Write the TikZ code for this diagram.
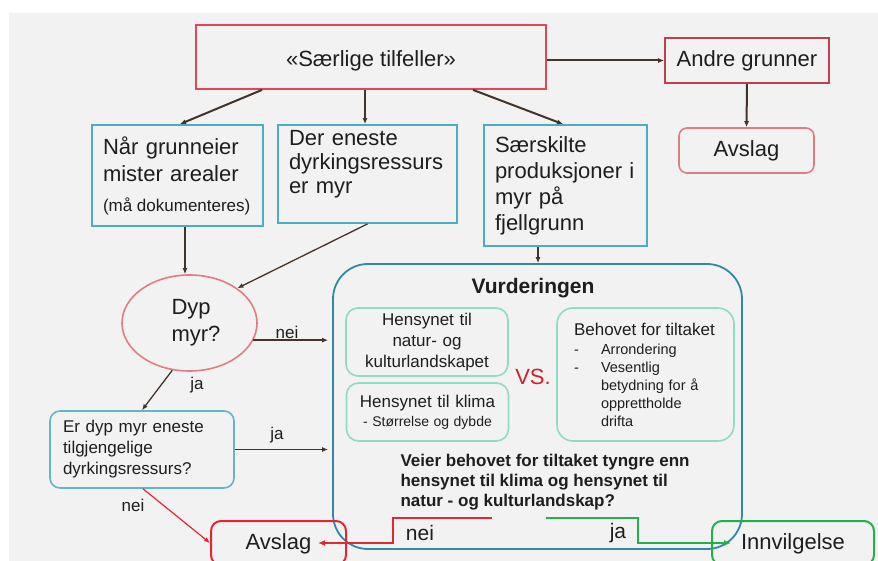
\documentclass[tikz,border=0pt]{standalone}
\usepackage{fontspec}
\setmainfont{Liberation Sans}
\usetikzlibrary{shapes.geometric}
\usetikzlibrary{arrows.meta}

\definecolor{bakgrunn}{HTML}{F2F2F2}
\definecolor{tekst}{HTML}{1E1E1E}
\definecolor{pilfarge}{HTML}{43342B}
\definecolor{saerrod}{HTML}{E0485A}
\definecolor{andrerod}{HTML}{C0404E}
\definecolor{lyserod}{HTML}{E27C84}
\definecolor{sterkrod}{HTML}{E42535}
\definecolor{turkis}{HTML}{4BACC6}
\definecolor{lysturkis}{HTML}{62B6CC}
\definecolor{vurdblaa}{HTML}{3189A8}
\definecolor{mint}{HTML}{8FDCC4}
\definecolor{gronn}{HTML}{22B04B}

\begin{document}
\begin{tikzpicture}[x=1pt,y=-1pt,
  every node/.style={text=tekst},
  stor/.style={font=\fontsize{22}{27}\selectfont},
  mellom/.style={font=\fontsize{17}{21}\selectfont},
  boks/.style={draw=#1, line width=1.8pt, inner sep=0pt},
  rundboks/.style={draw=#1, line width=1.6pt, inner sep=0pt, rounded corners=10pt},
  pil/.style={draw=pilfarge, line width=1.3pt, -{Latex[length=6pt,width=5pt]}},
  tykkpil/.style={pil, line width=2pt},
  roedlinje/.style={draw=sterkrod, line width=2.4pt, -{Latex[length=7pt,width=6pt]}},
  gronnlinje/.style={draw=gronn, line width=2.4pt, -{Latex[length=7pt,width=6pt]}}]

\useasboundingbox (0,0) rectangle (878,561);
\fill[bakgrunn] (9,13) rectangle (878,561);

% øverste rad
\node[boks=saerrod, stor, text height=23pt, minimum width=350pt, minimum height=64pt] (saer) at (371,57) {«Særlige tilfeller»};
\node[boks=andrerod, stor, minimum width=164pt, minimum height=45pt] (andre) at (747,60.5) {Andre grunner};
\node[rundboks=lyserod, stor, rounded corners=8pt, minimum width=135pt, minimum height=45pt] (avslag1) at (746.5,150.5) {Avslag};

% tre tilfeller
\node[boks=turkis, stor, minimum width=171pt, minimum height=101pt, text width=149pt, align=left] (b1) at (177.5,175.5)
  {Når grunneier\\mister arealer\\[3pt]{\fontsize{17}{20}\selectfont\spaceskip=0pt (må dokumenteres)}};
\node[boks=turkis, font=\fontsize{22}{24}\selectfont, minimum width=179pt, minimum height=98pt, text width=157pt, text depth=72pt, align=left] (b2) at (367.5,174)
  {Der eneste\\dyrkingsressurs\\er myr};
\node[boks=turkis, font=\fontsize{22}{26}\selectfont, minimum width=163pt, minimum height=121pt, text width=141pt, align=left] (b3) at (565.5,185.5)
  {Særskilte\\produksjoner i\\myr på\\fjellgrunn};

% venstre side
\node[ellipse, draw=lyserod, line width=1.6pt, inner sep=0pt, minimum width=135pt, minimum height=96pt, stor, text width=36pt, align=left] (dyp) at (189.5,323) {Dyp\\myr?};
\node[rundboks=lysturkis, mellom, minimum width=184pt, minimum height=77pt, text width=158pt, align=left] (erdyp) at (142,449.5)
  {Er dyp myr eneste\\tilgjengelige\\dyrkingsressurs?};

% vurderingen
\node[draw=vurdblaa, line width=1.8pt, rounded corners=35pt, minimum width=409pt, minimum height=285pt] (vurd) at (537.5,406.5) {};
\node[font=\bfseries\fontsize{21}{25}\selectfont] (vtittel) at (533,288) {Vurderingen};
\node[rundboks=mint, rounded corners=12pt, mellom, minimum width=162pt, minimum height=68pt, text width=150pt, align=center] (natur) at (427,342)
  {Hensynet til\\natur- og\\kulturlandskapet};
\node[rundboks=mint, rounded corners=12pt, font=\fontsize{17}{19}\selectfont, minimum width=162pt, minimum height=58pt, text width=150pt, align=center] (klima) at (427.5,412)
  {Hensynet til klima\\{\fontsize{14}{17}\selectfont\spaceskip=0pt - Størrelse og dybde}};
\node[text=sterkrod!90!black, font=\fontsize{22}{26}\selectfont] (vs) at (533,377) {VS.};
\node[rundboks=mint, rounded corners=16pt, font=\fontsize{14.5}{18}\selectfont, minimum width=177pt, minimum height=133pt, text width=143pt, align=left] (behov) at (645.5,374.5)
  {{\fontsize{17}{20}\selectfont\spaceskip=0pt Behovet for tiltaket}\\[1pt]
   \makebox[27pt][l]{-}Arrondering\\
   \makebox[27pt][l]{-}Vesentlig\\
   \hspace*{27pt}betydning for å\\
   \hspace*{27pt}opprettholde\\
   \hspace*{27pt}drifta};
\node[anchor=west, font=\bfseries\fontsize{17}{20}\selectfont, align=left] (sporsmal) at (397,482)
  {Veier behovet for tiltaket tyngre enn\\hensynet til klima og hensynet til\\natur - og kulturlandskap?};

% utfall
\node[rundboks=sterkrod, line width=2pt, stor, text height=18pt, minimum width=135pt, minimum height=44pt] (avslag2) at (278.5,543) {Avslag};
\node[rundboks=gronn, line width=2pt, stor, text height=18pt, minimum width=162pt, minimum height=44pt] (innv) at (793,543) {Innvilgelse};

% piler
\foreach \fra/\til/\dx in {-109/b1/2.5, -6/b2/-2.5, 102/b3/-2.5}
  \draw[tykkpil] ([xshift=\fra pt]saer.south) -- ([xshift=\dx pt]\til.north);
\draw[tykkpil] (saer.east |- andre.west) -- (andre.west);
\draw[tykkpil] (andre.south) -- (avslag1.north);

\draw[pil] ([xshift=7.5pt]b1.south) -- ([xshift=7.5pt]b1.south |- dyp.north);
\draw[pil] (b2.south) -- (dyp.36);
\draw[pil] ([xshift=-27.5pt]b3.south) -- ([xshift=-27.5pt]b3.south |- vurd.north);
\draw[pil, shorten >=4pt] (dyp.-15) -- (dyp.-15 -| vurd.west);
\draw[pil] (dyp.-110) -- (erdyp.north);
\draw[pil, shorten >=4pt] (erdyp.east) -- (erdyp.east -| vurd.west);
\draw[draw=sterkrod, line width=1.2pt, -{Latex[length=6pt,width=5pt]}] ([xshift=1pt]erdyp.south) -- (avslag2.west);

\node[mellom] (nei1) at (287,332) {nei};
\node[mellom] (ja1) at (197,385) {ja};
\node[mellom] (ja2) at (277,435) {ja};
\node[mellom] (nei2) at (133,505) {nei};

% nei / ja fra vurderingen
\coordinate (neistart) at (492,518);
\coordinate (jastart) at (546,518);
\draw[roedlinje] (neistart) -- ++(-99,0) |- ([xshift=-29pt]avslag2.east);
\draw[gronnlinje] (jastart) -- ++(92,0) |- ([xshift=20pt]innv.west);
\node[font=\fontsize{21}{25}\selectfont] (nei3) at (420,533) {nei};
\node[font=\fontsize{21}{25}\selectfont] (ja3) at (618,533) {ja};

\end{tikzpicture}
\end{document}
